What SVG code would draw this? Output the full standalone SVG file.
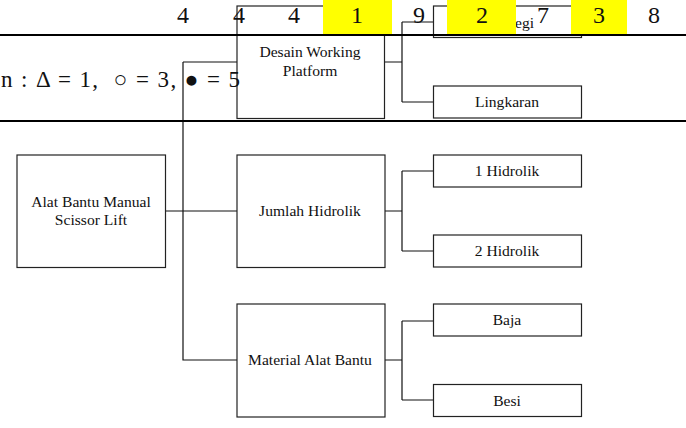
<svg xmlns="http://www.w3.org/2000/svg" width="686" height="428" viewBox="0 0 686 428">
<style>
.box{fill:#fff;stroke:#222;stroke-width:1.2}
.lbl{font-family:"Liberation Serif","Times New Roman",serif;font-size:15.6px;fill:#111;text-anchor:middle}
.con{fill:none;stroke:#111;stroke-width:1.2}
.num{font-family:"Liberation Serif","Times New Roman",serif;font-size:24px;fill:#111;text-anchor:middle}
.rule{stroke:#000;stroke-width:2.2}
.hl{fill:#ffff00}
</style>
<rect width="686" height="428" fill="#fff"/>
<g id="connectors">
<path class="con" d="M165,211 H237 M183,62 H237 M183,62 V360 H237"/>
<path class="con" d="M385,62 H402 M402,22 V102 M402,22 H434 M402,102 H434"/>
<path class="con" d="M385,211 H402 M402,171 V251 M402,171 H434 M402,251 H434"/>
<path class="con" d="M385,360 H402 M402,321 V400 M402,321 H434 M402,400 H434"/>
</g>
<g id="root"><rect class="box" x="17" y="155" width="148.5" height="112.5"/><text class="lbl" x="91" y="207">Alat Bantu Manual</text><text class="lbl" x="91" y="225">Scissor Lift</text></g>
<g id="desain"><rect class="box" x="237" y="6" width="147.5" height="112.5"/><text class="lbl" x="310" y="57">Desain Working</text><text class="lbl" x="310" y="76">Platform</text></g>
<g id="persegi"><rect class="box" x="433.5" y="6" width="148" height="31.5"/><text class="lbl" x="515" y="28" style="text-anchor:start">egi</text></g>
<g id="lingkaran"><rect class="box" x="433.5" y="86" width="148" height="32"/><text class="lbl" x="507" y="107">Lingkaran</text></g>
<g id="jumlah"><rect class="box" x="237" y="155" width="148" height="112.5"/><text class="lbl" x="310" y="216">Jumlah Hidrolik</text></g>
<g id="h1"><rect class="box" x="433.5" y="155" width="148" height="32"/><text class="lbl" x="507" y="176">1 Hidrolik</text></g>
<g id="h2"><rect class="box" x="433.5" y="235" width="148" height="32"/><text class="lbl" x="507" y="256">2 Hidrolik</text></g>
<g id="material"><rect class="box" x="237" y="304" width="148" height="113"/><text class="lbl" x="310" y="365">Material Alat Bantu</text></g>
<g id="baja"><rect class="box" x="433.5" y="304" width="148" height="32"/><text class="lbl" x="507" y="325">Baja</text></g>
<g id="besi"><rect class="box" x="433.5" y="384.5" width="148" height="32"/><text class="lbl" x="507" y="406">Besi</text></g>
<g id="overlay">
<line class="rule" x1="0" y1="35" x2="686" y2="35"/>
<line class="rule" x1="0" y1="121" x2="686" y2="121"/>
<rect class="hl" x="323" y="0" width="69" height="34"/>
<rect class="hl" x="447" y="0" width="69" height="34"/>
<rect class="hl" x="571" y="0" width="56" height="34"/>
<text class="num" x="183" y="23">4</text>
<text class="num" x="239" y="23">4</text>
<text class="num" x="294" y="23">4</text>
<text class="num" x="357" y="23">1</text>
<text class="num" x="419" y="23">9</text>
<text class="num" x="482" y="23">2</text>
<text class="num" x="543" y="23">7</text>
<text class="num" x="599" y="23">3</text>
<text class="num" x="654" y="23">8</text>
<text x="1" y="87" xml:space="preserve" textLength="239" lengthAdjust="spacing" style="font-family:'Liberation Serif','DejaVu Serif',serif;font-size:23px;fill:#111;white-space:pre">n : Δ = 1,  ○ = 3, ● = 5</text>
</g>
</svg>
